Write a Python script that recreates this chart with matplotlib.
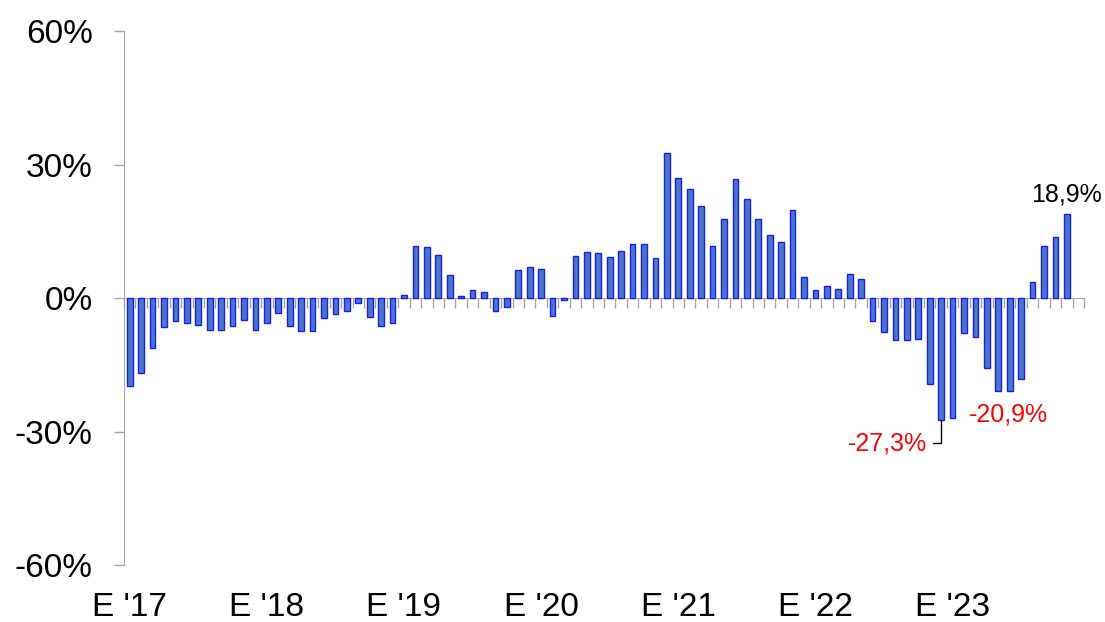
import matplotlib
matplotlib.use("Agg")
import matplotlib.pyplot as plt
import numpy as np

plt.rcParams["font.family"] = ["Liberation Sans", "DejaVu Sans"]

# monthly y/y change, Jan 2017 .. Nov 2023 (Dec 2023 slot left empty)
N_SLOTS = 84
values = [
    -19.7, -16.9, -11.3, -6.6, -5.1, -5.7, -6.1, -7.2, -7.2, -6.3, -5.0, -7.2,   # 2017
    -5.5, -3.4, -6.2, -7.5, -7.5, -4.5, -3.6, -2.8, -1.0, -4.2, -6.3, -5.6,      # 2018
    0.8, 11.8, 11.4, 9.7, 5.2, 0.5, 1.9, 1.3, -2.8, -1.9, 6.3, 6.9,              # 2019
    6.5, -4.0, -0.4, 9.4, 10.3, 10.1, 9.2, 10.6, 12.2, 12.2, 8.9, 32.5,          # 2020
    27.0, 24.6, 20.6, 11.6, 17.7, 26.8, 22.2, 17.7, 14.1, 12.7, 19.7, 4.8,       # 2021
    1.7, 2.7, 2.1, 5.4, 4.2, -5.1, -7.6, -9.4, -9.4, -9.3, -19.4, -27.3,         # 2022
    -27.0, -7.8, -8.8, -15.7, -20.8, -20.9, -18.1, 3.6, 11.6, 13.7, 18.9,        # 2023
]
year_labels = ["E '17", "E '18", "E '19", "E '20", "E '21", "E '22", "E '23"]
yticks = [-60, -30, 0, 30, 60]
# (index, text, colour)
callouts = [(71, "-27,3%", "red"), (77, "-20,9%", "red"), (82, "18,9%", "black")]

GRAY = "#a6a6a6"

fig = plt.figure(figsize=(11.05, 6.22), dpi=100)
ax = fig.add_axes([0.1122, 0.0916, 0.8688, 0.8584])

x = np.arange(len(values))
ax.bar(x, values, width=0.5, color="#4b79c0", edgecolor="#1a1aff", linewidth=1.0, zorder=3)

ax.set_xlim(-0.5, N_SLOTS - 0.5)
ax.set_ylim(-60, 60)
ax.set_yticks(yticks)
ax.set_yticklabels([f"{v}%" for v in yticks], fontsize=24)

# x axis sits on the zero line, ticks at month boundaries
ax.spines["bottom"].set_position(("data", 0))
ax.spines["bottom"].set_color(GRAY)
ax.spines["left"].set_color(GRAY)
ax.spines["top"].set_visible(False)
ax.spines["right"].set_visible(False)
ax.set_xticks(np.arange(N_SLOTS + 1) - 0.5)
ax.set_xticklabels([])
ax.tick_params(axis="x", direction="out", length=7.5, width=1, color=GRAY)
ax.tick_params(axis="y", direction="out", length=7.5, width=1, color=GRAY, pad=15)

for k, lab in enumerate(year_labels):
    ax.text(12 * k, -0.08, lab, transform=ax.get_xaxis_transform(),
            ha="center", va="center", fontsize=24)

for idx, txt, col in callouts:
    v = values[idx]
    if idx == 71:
        ax.annotate(txt, xy=(idx, v), xytext=(-10, -17), textcoords="offset points",
                    ha="right", va="center", fontsize=18, color=col,
                    arrowprops=dict(arrowstyle="-", color="black", lw=1,
                                    connectionstyle="angle,angleA=0,angleB=90,rad=0",
                                    shrinkA=2, shrinkB=0))
    elif v < 0:
        ax.annotate(txt, xy=(idx, v), xytext=(-1, -17), textcoords="offset points",
                    ha="center", va="center", fontsize=18, color=col)
    else:
        ax.annotate(txt, xy=(idx, v), xytext=(0, 14), textcoords="offset points",
                    ha="center", va="center", fontsize=18, color=col)

fig.savefig("out.png", dpi=100)
